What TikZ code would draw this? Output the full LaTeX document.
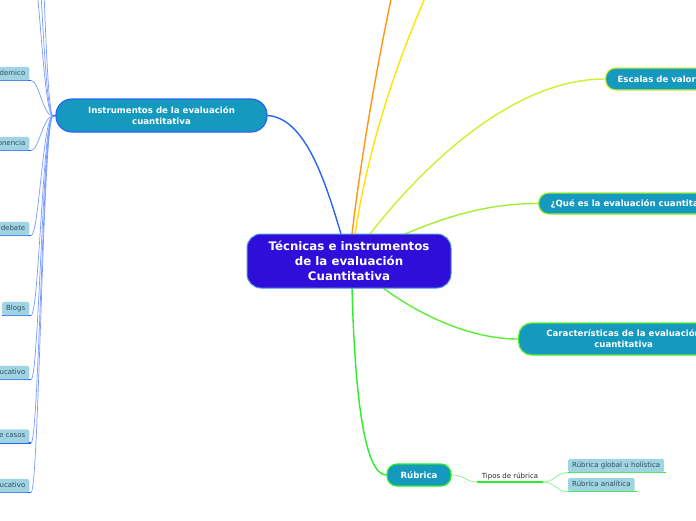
\documentclass[tikz,border=0pt]{standalone}
\usepackage{fontspec}
\setmainfont{DejaVu Sans}
\usetikzlibrary{backgrounds}
\definecolor{tealc}{RGB}{21,153,190}
\definecolor{centralc}{RGB}{46,14,216}
\definecolor{centralb}{RGB}{80,150,225}
\definecolor{leafc}{RGB}{160,212,226}
\definecolor{leaft}{RGB}{50,80,95}
\definecolor{lblue}{RGB}{40,100,245}
\definecolor{lbluet}{RGB}{120,155,255}
\definecolor{orangec}{RGB}{255,150,20}
\definecolor{yellowc}{RGB}{255,230,0}
\definecolor{ygreen}{RGB}{205,240,50}
\definecolor{ggreen}{RGB}{160,240,50}
\definecolor{gthree}{RGB}{90,240,50}
\definecolor{gfour}{RGB}{40,240,40}
\definecolor{lgreen}{RGB}{150,240,150}
\begin{document}
\begin{tikzpicture}[x=1pt,y=-1pt,
  central/.style={draw=centralb, line width=1pt, fill=centralc, rounded corners=14pt, text=white,
    font=\bfseries\fontsize{11.8}{15}\selectfont, align=center, minimum width=204pt, minimum height=54pt, inner sep=0pt},
  branch/.style={fill=tealc, line width=1.2pt, text=white, font=\bfseries\fontsize{8.6}{11}\selectfont,
    align=center, inner sep=0pt, rounded corners=10pt},
  leaf/.style={fill=leafc, text=leaft, font=\fontsize{7}{8}\selectfont, rounded corners=1.5pt,
    inner xsep=4pt, inner ysep=0pt, minimum height=13.5pt, text height=5.3pt, text depth=1.5pt},
  bline/.style={lblue, line width=1.5pt},
  gline/.style={gfour, line width=1.5pt},
  thinb/.style={lbluet, line width=0.7pt},
  thing/.style={lgreen, line width=0.8pt},
  mainline/.style={line width=1.4pt}
]
\useasboundingbox (0,0) rectangle (696,520);

% nodes
\node[central] (c) at (349,261) {Técnicas e instrumentos\\de la evaluación\\Cuantitativa};
\node[branch, draw=lblue, minimum width=211pt, minimum height=33pt, rounded corners=16pt] (ins) at (161.5,115.5) {Instrumentos de la evaluación\\cuantitativa};
\node[branch, draw=ygreen, anchor=west, minimum height=22pt, inner xsep=12pt] (esc) at (605,79) {Escalas de valor};
\node[branch, draw=ggreen, anchor=west, minimum height=21pt, inner xsep=12pt] (que) at (538,203.5) {¿Qué es la evaluación cuantitativa};
\node[branch, draw=gthree, anchor=west, minimum width=210pt, minimum height=32pt, rounded corners=13pt] (car) at (518,339) {Características de la evaluación\\cuantitativa};
\node[branch, draw=gfour, minimum width=64pt, minimum height=22pt] (rub) at (419,475) {Rúbrica};
\node[font=\fontsize{7}{8}\selectfont, text=black!85, inner sep=0pt, anchor=base] (tip) at (510,478.5) {Tipos de rúbrica};
\coordinate (tl) at (477,482);
\coordinate (tr) at (543,482);
\node[leaf, anchor=south west] (rg) at (568,472.5) {Rúbrica global u holística};
\node[leaf, anchor=south west] (ra) at (568,491.5) {Rúbrica analítica};

\node[leaf, anchor=south east] (l1) at (29.5,80.5) {demico};
\node[leaf, anchor=south east] (l2) at (29.5,150.5) {onencia};
\node[leaf, anchor=south east] (l3) at (29.5,235.5) {debate};
\node[leaf, anchor=south east] (l4) at (29.5,315.5) {Blogs};
\node[leaf, anchor=south east] (l5) at (29.5,379.5) {ucativo};
\node[leaf, anchor=south east] (l6) at (29.5,443) {e casos};
\node[leaf, anchor=south east] (l7) at (29.5,492.5) {ucativo};

\coordinate (jn) at (53,116);
\coordinate (u1) at (31,-40);
\coordinate (u2) at (31,-120);
\coordinate (u3) at (31,-300);
\coordinate (o1) at (395,-20);
\coordinate (y1) at (440,-35);
\coordinate (cb) at (341,234);
\coordinate (co) at (352,234);
\coordinate (cy) at (355,234);
\coordinate (cyg) at (370,234);
\coordinate (cq) at (405,234);
\coordinate (cc) at (383,288);
\coordinate (cr) at (352,288);

\begin{scope}[on background layer]
\fill[white] (0,0) rectangle (696,520);
% central branches
\draw[mainline, lblue] (ins.east) .. controls (305,118) and (325,180) .. (cb);
\draw[mainline, orangec] (co) .. controls (362,150) and (378,60) .. (o1);
\draw[mainline, yellowc] (cy) .. controls (368,150) and (395,60) .. (y1);
\draw[mainline, ygreen] (cyg) .. controls (420,170) and (510,79) .. (esc.west);
\draw[mainline, ggreen] (cq) .. controls (450,215) and (490,203.5) .. (que.west);
\draw[mainline, gthree] (cc) .. controls (420,315) and (470,339) .. (car.west);
\draw[mainline, gfour] (cr) .. controls (355,400) and (365,475) .. (rub.west);
% left subtree
\draw[bline] (jn) -- (ins.west);
\foreach \u in {u1,u2,u3} {
  \draw[thinb] (jn) .. controls +(-10,0) and +(8,0) .. (\u);
}
\foreach \l in {l1,l2,l3,l4,l5,l6,l7} {
  \draw[thinb] (jn) .. controls +(-10,0) and +(8,0) .. ([xshift=1.5pt]\l.south east);
  \draw[bline] (\l.south west) -- ([xshift=1.5pt]\l.south east);
}
% rubrica subtree
\draw[thing] (rub.east) .. controls +(14,0) and +(-12,0) .. (tl);
\draw[gline] (tl) -- (tr);
\draw[thing] (tr) .. controls +(12,0) and +(-12,0) .. (rg.south west);
\draw[thing] (tr) .. controls +(12,0) and +(-12,0) .. (ra.south west);
\draw[gline] (rg.south west) -- ([xshift=2pt]rg.south east);
\draw[gline] (ra.south west) -- ([xshift=2pt]ra.south east);
\end{scope}
\end{tikzpicture}
\end{document}
